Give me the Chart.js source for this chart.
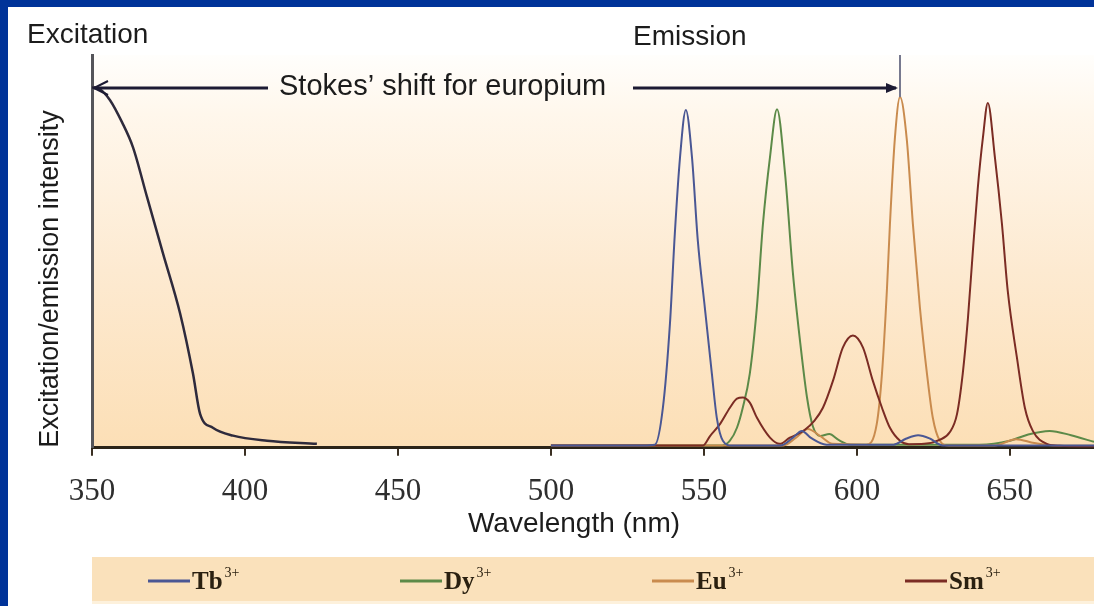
<!DOCTYPE html>
<html>
<head>
<meta charset="utf-8">
<script src="https://cdn.jsdelivr.net/npm/chart.js@4.4.1/dist/chart.umd.min.js"></script>
<style>
  html, body { margin: 0; padding: 0; background: #fff; }
  canvas { display: block; }
</style>
</head>
<body>
<canvas id="myChart" width="1094" height="606"></canvas>
<script>
// wavelengths (nm) and intensities
const excitationNm = [350, 352.6, 355.9, 359.8, 363.4, 368, 373.2, 378.8, 383, 385.3, 389.5, 396.1, 407.2, 423.5];
const excitationVal = [91.8, 91.3, 88.5, 82.9, 76.5, 63.8, 49.5, 34.2, 18.9, 8.7, 5.1, 3.1, 1.8, 1.0];

const tbNm = [500, 530, 534, 536.6, 538.9, 540.5, 542.2, 544.1, 546.1, 548, 550.3, 552.6, 554.2, 556.2, 559, 575, 579, 582, 585, 590, 612, 616, 620, 624, 628, 677.5];
const tbVal = [0.6, 0.6, 0.8, 10.2, 31.6, 54.6, 74, 86, 74, 52.8, 35.7, 18.9, 7.7, 1.8, 0.6, 0.6, 2.5, 4.3, 2.5, 0.8, 0.8, 2.3, 3.2, 2.3, 0.6, 0.6];

const dyNm = [500, 556, 558.5, 560.8, 562.7, 565, 567.3, 569.3, 571.6, 573.9, 576.5, 579.1, 581.4, 583.7, 585.6, 588, 591, 594, 598, 640, 650, 656, 663, 670, 677.5];
const dyVal = [0.6, 0.6, 1.8, 5.1, 10.2, 18.9, 35.7, 57, 74, 86.2, 70, 44.4, 27.3, 12.8, 5.5, 3.0, 3.5, 2.0, 0.8, 0.8, 1.8, 3.4, 4.3, 3.2, 1.5];

const euNm = [500, 576, 580, 584, 588, 592, 603, 606.5, 608.2, 609.8, 610.8, 612.4, 614.1, 616.3, 618.3, 620.6, 622.9, 624.8, 627.1, 630, 645, 652, 658, 665, 677.5];
const euVal = [0.6, 0.6, 2.5, 4.8, 3.0, 1.0, 0.8, 6.1, 18.9, 40, 56.9, 78.6, 89.3, 78.6, 57, 35.7, 18.9, 7.7, 1.8, 0.6, 0.6, 2.2, 1.2, 0.6, 0.5];

const smNm = [500, 549.7, 552, 555.3, 558.5, 560.8, 562.7, 565, 567.3, 571.6, 574.8, 578.1, 580, 583, 586, 588.9, 592.2, 595.4, 598.7, 602, 605.2, 608.2, 610.8, 614.1, 617, 622, 627, 630.4, 632.7, 634.6, 636.3, 637.9, 639.5, 641.2, 642.8, 645.1, 647.4, 649.3, 652.3, 654.9, 657.5, 662.1, 666.3, 677.5];
const smVal = [0.6, 0.6, 3, 6.1, 10.2, 12.5, 12.8, 11.5, 7.7, 2.6, 1.0, 2.6, 3.2, 4.6, 6.8, 10.2, 17.1, 25.5, 28.6, 25.5, 17.1, 10.2, 5.1, 1.8, 0.9, 1.0, 2.0, 4.0, 8.5, 18.9, 33, 50, 66, 79, 87.8, 74, 57.1, 40, 23, 10.2, 4.3, 1.0, 0.5, 0.3];

const seriesNames = ["Tb", "Dy", "Eu", "Sm"];
const seriesColors = ["#4a5794", "#5c8a48", "#c98b4e", "#7b2c24"];
const xTicks = [350, 400, 450, 500, 550, 600, 650];

const euPeakNm = 614.1;
const euPeakVal = 89.3;

function toPoints(xs, ys) {
  return xs.map((x, i) => ({ x: x, y: ys[i] }));
}

function lineSet(label, xs, ys, color, width) {
  return {
    label: label,
    data: toPoints(xs, ys),
    borderColor: color,
    borderWidth: width,
    pointRadius: 0,
    fill: false,
    cubicInterpolationMode: "monotone",
  };
}

const sansFont = "'Liberation Sans', Arial, sans-serif";
const serifFont = "'Liberation Serif', 'Times New Roman', serif";

const decorPlugin = {
  id: "decor",
  beforeDraw(chart) {
    const ctx = chart.ctx;
    const a = chart.chartArea;
    ctx.save();
    ctx.fillStyle = "#ffffff";
    ctx.fillRect(0, 0, chart.width, chart.height);
    const g = ctx.createLinearGradient(0, a.top, 0, a.bottom);
    g.addColorStop(0, "#fffefc");
    g.addColorStop(0.15, "#fff7ec");
    g.addColorStop(0.55, "#fdead1");
    g.addColorStop(1, "#fcdfb6");
    ctx.fillStyle = g;
    ctx.fillRect(a.left, a.top, a.right - a.left, a.bottom - a.top);
    // legend band
    ctx.fillStyle = "#fae1bb";
    ctx.fillRect(a.left, 557, chart.width - a.left, 44);
    ctx.fillStyle = "#fdf1dc";
    ctx.fillRect(a.left, 601, chart.width - a.left, 3);
    ctx.restore();
  },
  afterDraw(chart) {
    const ctx = chart.ctx;
    const x = chart.scales.x;
    const y = chart.scales.y;
    ctx.save();
    ctx.fillStyle = "#1c1c1c";
    ctx.font = "28px " + sansFont;
    ctx.textBaseline = "alphabetic";
    ctx.textAlign = "left";
    ctx.fillText("Excitation", 27, 43);
    ctx.fillText("Emission", 633, 45);

    // Stokes shift arrow
    const arrowY = 88;
    const x0 = x.getPixelForValue(350);
    const x1 = x.getPixelForValue(euPeakNm);
    ctx.font = "29px " + sansFont;
    ctx.textBaseline = "middle";
    ctx.fillText("Stokes\u2019 shift for europium", 279, arrowY - 1);
    ctx.strokeStyle = "#1c1a33";
    ctx.lineWidth = 3;
    ctx.beginPath();
    ctx.moveTo(x0 + 2, arrowY);
    ctx.lineTo(268, arrowY);
    ctx.moveTo(633, arrowY);
    ctx.lineTo(x1 - 4, arrowY);
    ctx.stroke();
    ctx.lineWidth = 2;
    ctx.beginPath();
    ctx.moveTo(x0 + 16, arrowY - 7);
    ctx.lineTo(x0 + 2, arrowY);
    ctx.lineTo(x0 + 16, arrowY + 7);
    ctx.stroke();
    ctx.fillStyle = "#1c1a33";
    ctx.beginPath();
    ctx.moveTo(x1 - 2, arrowY);
    ctx.lineTo(x1 - 14, arrowY - 5);
    ctx.lineTo(x1 - 14, arrowY + 5);
    ctx.closePath();
    ctx.fill();

    // europium peak marker
    ctx.strokeStyle = "#77798f";
    ctx.lineWidth = 2;
    ctx.beginPath();
    ctx.moveTo(x1, chart.chartArea.top);
    ctx.lineTo(x1, y.getPixelForValue(euPeakVal));
    ctx.stroke();

    // axis titles
    ctx.fillStyle = "#1c1c1c";
    ctx.font = "28px " + sansFont;
    ctx.textAlign = "center";
    ctx.textBaseline = "middle";
    ctx.fillText("Wavelength (nm)", 574, 524);
    ctx.save();
    ctx.translate(51, 279);
    ctx.rotate(-Math.PI / 2);
    ctx.font = "27px " + sansFont;
    ctx.fillText("Excitation/emission intensity", 0, 0);
    ctx.restore();

    // legend
    const legendY = 581;
    const legendX = [148, 400, 652, 905];
    const lineLen = 42;
    seriesNames.forEach((name, i) => {
      const lx = legendX[i];
      ctx.strokeStyle = seriesColors[i];
      ctx.lineWidth = 3;
      ctx.beginPath();
      ctx.moveTo(lx, legendY);
      ctx.lineTo(lx + lineLen, legendY);
      ctx.stroke();
      ctx.fillStyle = "#2a2010";
      ctx.textAlign = "left";
      ctx.textBaseline = "middle";
      ctx.font = "bold 25px " + serifFont;
      ctx.fillText(name, lx + lineLen + 2, legendY + 2);
      const w = ctx.measureText(name).width;
      ctx.font = "14px " + serifFont;
      ctx.fillText("3+", lx + lineLen + 4 + w, legendY - 8);
    });

    // blue frame
    ctx.fillStyle = "#003399";
    ctx.fillRect(0, 0, chart.width, 7);
    ctx.fillRect(0, 0, 8, chart.height);
    ctx.restore();
  },
};

const ctx = document.getElementById("myChart").getContext("2d");
new Chart(ctx, {
  type: "line",
  data: {
    datasets: [
      lineSet(seriesNames[0], tbNm, tbVal, seriesColors[0], 2),
      lineSet("Excitation", excitationNm, excitationVal, "#2e2a3c", 2.5),
      lineSet(seriesNames[3], smNm, smVal, seriesColors[3], 2),
      lineSet(seriesNames[2], euNm, euVal, seriesColors[2], 2),
      lineSet(seriesNames[1], dyNm, dyVal, seriesColors[1], 2),
    ],
  },
  options: {
    responsive: false,
    animation: false,
    devicePixelRatio: 1,
    layout: { padding: { left: 92, right: 0, top: 55, bottom: 79 } },
    plugins: {
      legend: { display: false },
      tooltip: { enabled: false },
    },
    scales: {
      x: {
        type: "linear",
        min: 350,
        max: 677.5,
        afterBuildTicks: (scale) => {
          scale.ticks = xTicks.map((v) => ({ value: v }));
        },
        ticks: {
          font: { family: serifFont, size: 31 },
          color: "#2e2e2e",
          padding: 17,
          maxRotation: 0,
          autoSkip: false,
        },
        grid: {
          display: true,
          drawOnChartArea: false,
          drawTicks: true,
          tickLength: 8,
          color: "#3a2f22",
          lineWidth: 2,
        },
        border: { display: true, color: "#2b2418", width: 3 },
      },
      y: {
        min: 0,
        max: 100,
        ticks: { display: false },
        grid: { display: false, drawTicks: false },
        border: { display: true, color: "#55555a", width: 3 },
      },
    },
  },
  plugins: [decorPlugin],
});
</script>
</body>
</html>
